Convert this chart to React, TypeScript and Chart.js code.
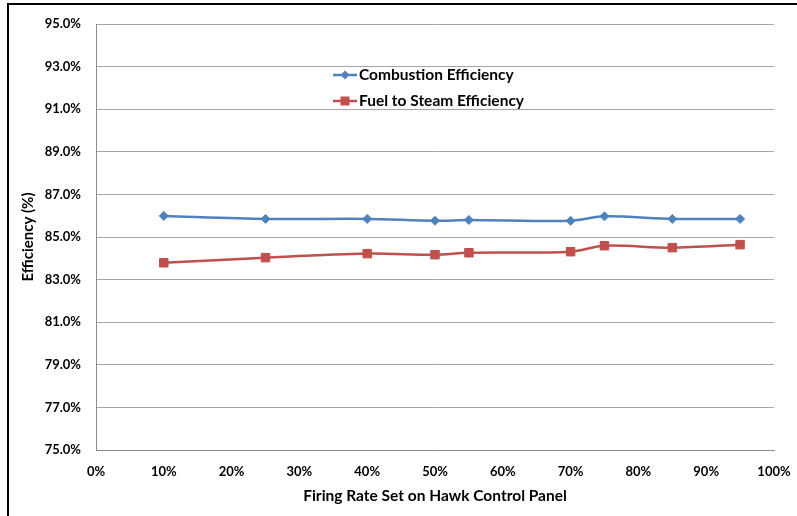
import React, { useEffect, useRef } from "react";
import { Chart, registerables } from "chart.js";

Chart.register(...registerables);

const firingRates = [10, 25, 40, 50, 55, 70, 75, 85, 95];
const combustionEfficiency = [85.99, 85.85, 85.85, 85.76, 85.8, 85.76, 85.97, 85.85, 85.85];
const fuelToSteamEfficiency = [83.79, 84.03, 84.22, 84.17, 84.26, 84.31, 84.59, 84.5, 84.64];
const seriesNames = ["Combustion Efficiency", "Fuel to Steam Efficiency"];
const xAxisTitle = "Firing Rate Set on Hawk Control Panel";
const yAxisTitle = "Efficiency (%)";

const FONT = "Lato, 'Open Sans', sans-serif";
const BLUE = "#4F81BD";
const RED = "#C0504D";

const legendPlugin = {
  id: "insideLegend",
  afterDraw(chart: any) {
    const ctx = chart.ctx;
    const rows = [75, 101];
    chart.data.datasets.forEach((ds: any, i: number) => {
      const y = rows[i];
      ctx.save();
      ctx.strokeStyle = ds.borderColor;
      ctx.lineWidth = 2.5;
      ctx.beginPath();
      ctx.moveTo(333, y);
      ctx.lineTo(357, y);
      ctx.stroke();
      ctx.fillStyle = ds.backgroundColor;
      ctx.beginPath();
      if (ds.pointStyle === "rectRot") {
        const r = 4.5;
        ctx.moveTo(345 - r, y);
        ctx.lineTo(345, y - r);
        ctx.lineTo(345 + r, y);
        ctx.lineTo(345, y + r);
        ctx.closePath();
      } else {
        ctx.rect(345 - 4.5, y - 4.5, 9, 9);
      }
      ctx.fill();
      ctx.fillStyle = "#000";
      ctx.font = `bold 15.5px ${FONT}`;
      ctx.textBaseline = "middle";
      ctx.textAlign = "left";
      ctx.fillText(ds.label, 359, y);
      ctx.restore();
    });
  },
};

export default function App() {
  const ref = useRef<HTMLCanvasElement | null>(null);

  useEffect(() => {
    if (!ref.current) return;
    const chart = new Chart(ref.current, {
      type: "line",
      data: {
        datasets: [
          {
            label: seriesNames[0],
            data: firingRates.map((x, i) => ({ x, y: combustionEfficiency[i] })),
            borderColor: BLUE,
            backgroundColor: BLUE,
            borderWidth: 2.5,
            pointStyle: "rectRot",
            pointRadius: 4.5,
            pointBorderWidth: 1,
            tension: 0.3,
          },
          {
            label: seriesNames[1],
            data: firingRates.map((x, i) => ({ x, y: fuelToSteamEfficiency[i] })),
            borderColor: RED,
            backgroundColor: RED,
            borderWidth: 2.5,
            pointStyle: "rect",
            pointRadius: 6,
            pointBorderWidth: 1,
            tension: 0.3,
          },
        ],
      },
      options: {
        animation: false,
        responsive: false,
        maintainAspectRatio: false,
        layout: { padding: { top: 24, right: 23, left: 0, bottom: 0 } },
        plugins: { legend: { display: false }, tooltip: { enabled: false } },
        scales: {
          x: {
            type: "linear",
            min: 0,
            max: 100,
            ticks: {
              stepSize: 10,
              padding: 14,
              color: "#000",
              font: { family: FONT, size: 13, weight: "bold" },
              callback: (v: any) => `${v}%`,
            },
            grid: { display: false, drawTicks: false },
            border: { display: true, color: "#8C8C8C", width: 1 },
            title: {
              display: true,
              text: xAxisTitle,
              color: "#000",
              font: { family: FONT, size: 15.5, weight: "bold" },
              padding: { top: 0, bottom: 10.7 },
            },
            afterFit: (scale: any) => {
              scale.height = 66;
              scale.paddingLeft = 0;
              scale.paddingRight = 0;
            },
          },
          y: {
            min: 75,
            max: 95,
            ticks: {
              stepSize: 2,
              padding: 15,
              color: "#000",
              font: { family: FONT, size: 13, weight: "bold" },
              callback: (v: any) => `${Number(v).toFixed(1)}%`,
            },
            grid: { color: "#A6A6A6", lineWidth: 1, drawTicks: false },
            border: { display: true, color: "#8C8C8C", width: 1 },
            title: {
              display: true,
              text: yAxisTitle,
              color: "#000",
              font: { family: FONT, size: 15, weight: "bold" },
              padding: { top: 19, bottom: 0 },
            },
            afterFit: (scale: any) => {
              scale.width = 96;
              scale.paddingTop = 0;
              scale.paddingBottom = 0;
            },
          },
        },
      },
      plugins: [legendPlugin],
    } as any);
    return () => chart.destroy();
  }, []);

  return (
    <div style={{ position: "fixed", left: 0, top: 0, width: 797, height: 516, overflow: "hidden", background: "#fff" }}>
      <div
        style={{
          position: "absolute",
          left: 7,
          top: 3,
          width: 900,
          height: 700,
          border: "2px solid #000",
          boxSizing: "border-box",
        }}
      />
      <canvas ref={ref} width={797} height={516} style={{ position: "absolute", left: 0, top: 0, width: 797, height: 516 }} />
    </div>
  );
}
